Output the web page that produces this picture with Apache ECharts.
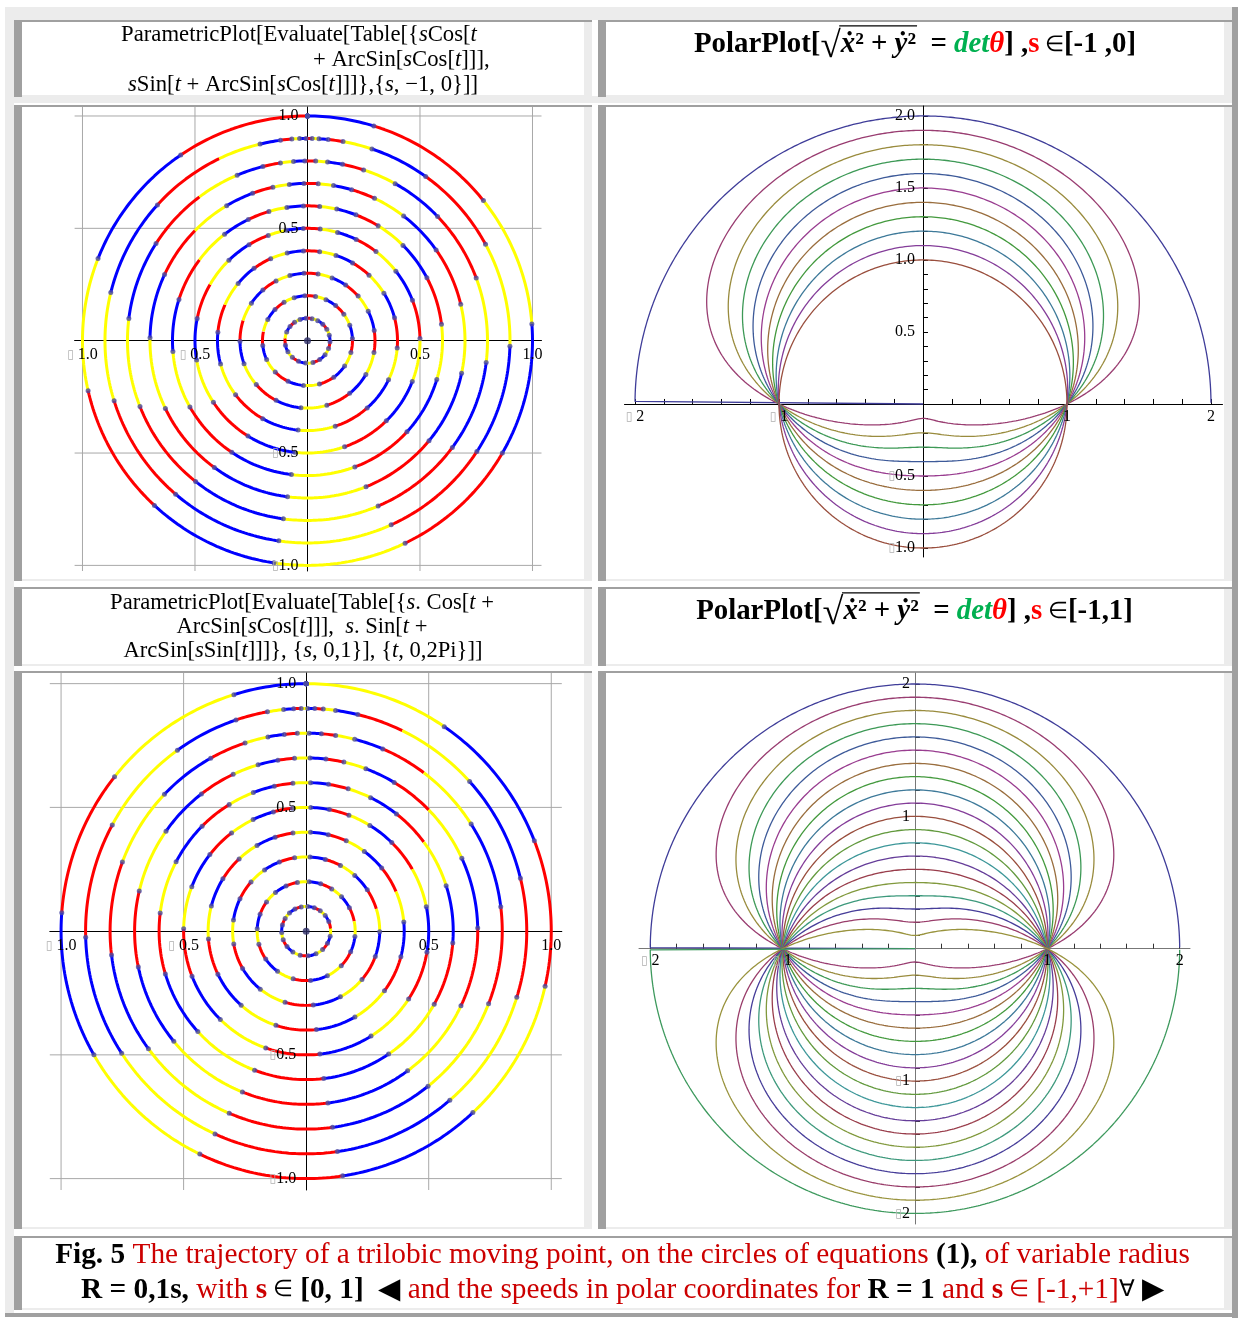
<!DOCTYPE html>
<html>
<head>
<meta charset="utf-8">
<title>Fig. 5</title>
<script src="https://cdn.jsdelivr.net/npm/echarts@6.0.0/dist/echarts.min.js"></script>
<style>
html,body{margin:0;padding:0;background:#ffffff;}
#wrap{position:relative;width:1238px;height:1320px;overflow:hidden;background:#fff;}
#frame{position:absolute;left:0;top:0;width:1238px;height:1320px;}
#frame div{position:absolute;}
#chart{position:absolute;left:0;top:0;width:1238px;height:1320px;}
</style>
</head>
<body>
<div id="wrap"><div id="frame"></div><div id="chart"></div></div>
<script>
// ================= DATA =================
// circle parameters s (radius |s|) of the two ParametricPlot panels
const ringS_TL = [-1, -0.9, -0.8, -0.7, -0.6, -0.5, -0.4, -0.3, -0.2, -0.1, 0];
const ringS_BL = [0, 0.1, 0.2, 0.3, 0.4, 0.5, 0.6, 0.7, 0.8, 0.9, 1];
const meshPoints = 20;                                   // Mesh -> 20
const meshShading = ['#ff0000', '#0000ff', '#ffff00'];   // segment colours in order
// parameters s of the PolarPlot speed curves
const polarS_TR = [-1, -0.9, -0.8, -0.7, -0.6, -0.5, -0.4, -0.3, -0.2, -0.1, 0];
const polarS_BR = [-1, -0.9, -0.8, -0.7, -0.6, -0.5, -0.4, -0.3, -0.2, -0.1, 0,
                   0.1, 0.2, 0.3, 0.4, 0.5, 0.6, 0.7, 0.8, 0.9, 1];
// grid lines / ticks / labels
const gridLinesLeft = [-1, -0.5, 0.5, 1];
const ticksLeft = [-1, -0.9, -0.8, -0.7, -0.6, -0.5, -0.4, -0.3, -0.2, -0.1,
                   0.1, 0.2, 0.3, 0.4, 0.5, 0.6, 0.7, 0.8, 0.9, 1];
const labelsLeft = [-1, -0.5, 0.5, 1];
const ticksPolarX = [-2, -1.8, -1.6, -1.4, -1.2, -1, -0.8, -0.6, -0.4, -0.2,
                     0.2, 0.4, 0.6, 0.8, 1, 1.2, 1.4, 1.6, 1.8, 2];
const ticksTRy = [-1, -0.9, -0.8, -0.7, -0.6, -0.5, -0.4, -0.3, -0.2, -0.1,
                  0.1, 0.2, 0.3, 0.4, 0.5, 0.6, 0.7, 0.8, 0.9, 1,
                  1.1, 1.2, 1.3, 1.4, 1.5, 1.6, 1.7, 1.8, 1.9, 2];
const ticksBRy = [-2, -1.9, -1.8, -1.7, -1.6, -1.5, -1.4, -1.3, -1.2, -1.1,
                  -1, -0.9, -0.8, -0.7, -0.6, -0.5, -0.4, -0.3, -0.2, -0.1,
                  0.1, 0.2, 0.3, 0.4, 0.5, 0.6, 0.7, 0.8, 0.9, 1,
                  1.1, 1.2, 1.3, 1.4, 1.5, 1.6, 1.7, 1.8, 1.9, 2];
const labelsTRx = [-2, -1, 1, 2];
const labelsTRy = [-1, -0.5, 0.5, 1, 1.5, 2];
const labelsBRx = [-2, -1, 1, 2];
const labelsBRy = [-2, -1, 1, 2];

// ================= FRAME (table borders) =================
const DARK = '#a0a0a0', LIGHT = '#ececec';
const frameRects = [
  [5, 7, 1227, 13, LIGHT], [5, 7, 9, 1306, LIGHT], [1232, 7, 6, 1311, DARK], [5, 1313, 1233, 4, DARK],
  [14, 96, 1218, 7, LIGHT]
];
const cells = [[14,20,592,97],[598,20,1232,97],[14,105,592,581],[598,105,1232,581],
               [14,587,592,666],[598,587,1232,666],[14,671,592,1229],[598,671,1232,1229],[14,1236,1232,1310]];
cells.forEach(c => {
  const [x0,y0,x1,y1] = c;
  frameRects.push([x0,y0,x1-x0,2,DARK],[x0,y0,8,y1-y0,DARK],[x1-8,y0+2,8,y1-y0-2,LIGHT],[x0+8,y1-2,x1-x0-16,2,LIGHT]);
});
const frame = document.getElementById('frame');
frameRects.forEach(r => {
  const d = document.createElement('div');
  d.style.left = r[0]+'px'; d.style.top = r[1]+'px'; d.style.width = r[2]+'px'; d.style.height = r[3]+'px'; d.style.background = r[4];
  frame.appendChild(d);
});

// ================= GEOMETRY FROM THE PLOTTED EXPRESSIONS =================
const TWO_PI = 2 * Math.PI;
const GAP = ['-', '-'];
function ringPoint(s, t) {
  const a = Math.max(-1, Math.min(1, s * Math.cos(t)));
  const phi = t + Math.asin(a);
  return [s * Math.cos(phi), s * Math.sin(phi)];
}
function buildRings(sList) {
  const segs = meshPoints + 1;
  const byColor = meshShading.map(() => []);
  const dots = [], center = [];
  sList.forEach(s => {
    if (s === 0) { center.push([0, 0]); return; }
    for (let k = 0; k < segs; k++) {
      const t0 = k * TWO_PI / segs, t1 = (k + 1) * TWO_PI / segs, arr = byColor[k % meshShading.length];
      for (let j = 0; j <= 36; j++) arr.push(ringPoint(s, t0 + (t1 - t0) * j / 36));
      arr.push(GAP);
    }
    for (let k = 1; k <= meshPoints; k++) dots.push(ringPoint(s, k * TWO_PI / segs));
  });
  return { byColor, dots, center };
}
function speedCurve(s) {
  const N = 1440, pts = [];
  for (let i = 0; i <= N; i++) {
    const t = i * TWO_PI / N, c = Math.cos(t), d = 1 - s * s * c * c;
    if (d <= 1e-12) continue;
    const r = 1 - s * Math.sin(t) / Math.sqrt(d);
    pts.push([r * c, r * Math.sin(t)]);
  }
  return pts;
}
function hsv(h, s, v) {
  const i = Math.floor(h * 6), f = h * 6 - i, p = v * (1 - s), q = v * (1 - f * s), u = v * (1 - (1 - f) * s);
  const m = [[v,u,p],[q,v,p],[p,v,u],[p,q,v],[u,p,v],[v,p,q]][i % 6];
  return 'rgb(' + m.map(x => Math.round(x * 255)).join(',') + ')';
}
function curveColor(n) { const h = 0.67 + 2 * n / ((1 + Math.sqrt(5)) / 2); return hsv(h - Math.floor(h), 0.6, 0.6); }

// ================= AXES =================
const SERIF = '"Liberation Serif", "Times New Roman", serif';
const boxRich = { b: { color: '#b0b0b0', fontFamily: '"DejaVu Sans"', fontSize: 12 } };
function fmt1(v) { return v.toFixed(1); }
function fmt0(v) { return String(Math.round(v)); }
function makeAxis(i, min, max, ticks, o, pos) {
  return { type: 'value', gridIndex: i, min: min, max: max, position: pos, z: 1,
    axisLine: { show: true, onZero: true, lineStyle: { color: o.axis, width: 1 } },
    axisTick: { show: true, inside: true, length: o.tick, customValues: ticks, lineStyle: { color: o.tickColor || o.axis, width: 1 } },
    axisLabel: { show: false },
    splitLine: { show: false }, minorTick: { show: false } };
}
const R = {
  TL: { x: [-1.035, 1.04], y: [-1.025, 1.04] },
  TR: { x: [-2.073, 2.08], y: [-1.0625, 2.069] },
  BL: { x: [-1.046, 1.043], y: [-1.046, 1.043] },
  BR: { x: [-2.085, 2.078], y: [-2.08, 2.083] }
};
const xAxes = [
  makeAxis(0, R.TL.x[0], R.TL.x[1], ticksLeft, { axis: '#000', tick: 5 }, 'bottom'),
  makeAxis(1, R.TR.x[0], R.TR.x[1], ticksPolarX, { axis: '#000', tick: 5 }, 'bottom'),
  makeAxis(2, R.BL.x[0], R.BL.x[1], ticksLeft, { axis: '#000', tick: 5 }, 'bottom'),
  makeAxis(3, R.BR.x[0], R.BR.x[1], ticksPolarX, { axis: '#777', tickColor: '#333', tick: 5 }, 'bottom')
];
const yAxes = [
  makeAxis(0, R.TL.y[0], R.TL.y[1], ticksLeft, { axis: '#000', tick: 6 }, 'left'),
  makeAxis(1, R.TR.y[0], R.TR.y[1], ticksTRy, { axis: '#000', tick: 5 }, 'left'),
  makeAxis(2, R.BL.y[0], R.BL.y[1], ticksLeft, { axis: '#000', tick: 6 }, 'left'),
  makeAxis(3, R.BR.y[0], R.BR.y[1], ticksBRy, { axis: '#777', tickColor: '#333', tick: 5 }, 'left')
];

// ================= SERIES =================
const series = [];
function gridSeries(ai, rg) {
  const data = [];
  gridLinesLeft.forEach(v => {
    data.push([v, rg.y[0]], [v, rg.y[1]], GAP);
    data.push([rg.x[0], v], [rg.x[1], v], GAP);
  });
  return { type: 'line', name: 'grid', xAxisIndex: ai, yAxisIndex: ai, data: data, symbol: 'none', showSymbol: false,
    connectNulls: false, lineStyle: { color: '#a8a8a8', width: 1 }, silent: true, z: 1 };
}
function ringPanel(ai, sList, rg) {
  series.push(gridSeries(ai, rg));
  const rs = buildRings(sList);
  rs.byColor.forEach((d, ci) => series.push({ type: 'line', name: 'ring' + ci, xAxisIndex: ai, yAxisIndex: ai, data: d,
    symbol: 'none', showSymbol: false, connectNulls: false, lineStyle: { color: meshShading[ci], width: 3 }, silent: true, z: 2 }));
  series.push({ type: 'scatter', name: 'mesh', xAxisIndex: ai, yAxisIndex: ai, data: rs.dots, symbolSize: 5,
    itemStyle: { color: '#4b4ba3' }, silent: true, z: 3 });
  series.push({ type: 'scatter', name: 'center', xAxisIndex: ai, yAxisIndex: ai, data: rs.center, symbolSize: 7,
    itemStyle: { color: '#2d2d66' }, silent: true, z: 3 });
}
function polarPanel(ai, sList) {
  sList.forEach((s, n) => series.push({ type: 'line', name: 's=' + s, xAxisIndex: ai, yAxisIndex: ai, data: speedCurve(s),
    symbol: 'none', showSymbol: false, lineStyle: { color: curveColor(n), width: 1.3 }, silent: true, z: 2 }));
}
// tick labels placed on the zero axis lines through the panel's own scales
function tickLabels(ai, xs, ys, fx, fy, mx, my) {
  const base = { fontFamily: SERIF, fontSize: 16, color: '#000', opacity: 1, rich: boxRich, textBorderWidth: 0, textShadowBlur: 0 };
  series.push({ type: 'scatter', name: 'xlabels', xAxisIndex: ai, yAxisIndex: ai, data: xs.map(v => [v, 0]),
    symbolSize: 0, silent: true, z: 5, clip: false,
    label: Object.assign({ show: true, position: 'bottom', distance: mx,
      formatter: p => { const v = p.value[0]; return v < 0 ? '{b|\u25AF} ' + fx(-v) : fx(v); } }, base) });
  series.push({ type: 'scatter', name: 'ylabels', xAxisIndex: ai, yAxisIndex: ai, data: ys.map(v => [0, v]),
    symbolSize: 0, silent: true, z: 5, clip: false,
    label: Object.assign({ show: true, position: 'left', distance: my,
      formatter: p => { const v = p.value[1]; return v < 0 ? '{b|\u25AF}' + fy(-v) : fy(v); } }, base) });
}
ringPanel(0, ringS_TL, R.TL);
polarPanel(1, polarS_TR);
ringPanel(2, ringS_BL, R.BL);
polarPanel(3, polarS_BR);
tickLabels(0, labelsLeft, labelsLeft, fmt1, fmt1, 6, 9);
tickLabels(1, labelsTRx, labelsTRy, fmt0, fmt1, 5, 8);
tickLabels(2, labelsLeft, labelsLeft, fmt1, fmt1, 7, 10);
tickLabels(3, labelsBRx, labelsBRy, fmt0, fmt0, 4, 5);

// ================= TEXT =================
const mctx = document.createElement('canvas').getContext('2d');
function measure(t, font) { mctx.font = font; return mctx.measureText(t).width; }
const FONTS = {
  n: sz => sz + 'px ' + SERIF,
  i: sz => 'italic ' + sz + 'px ' + SERIF,
  B: sz => 'bold ' + sz + 'px ' + SERIF,
  BI: sz => 'italic bold ' + sz + 'px ' + SERIF,
  R: sz => Math.round(sz * 1.3) + 'px ' + SERIF,
  S: sz => Math.round(sz * 0.78) + 'px ' + SERIF
};
function runsWidth(runs, sz) { return runs.reduce((a, r) => a + measure(r[0], FONTS[r[1]](sz)), 0); }
function fitSize(runs, base, target) { return base * target / runsWidth(runs, base); }
const graphics = [];
function placeRuns(runs, sz, y, opt) {
  const ws = runs.map(r => measure(r[0], FONTS[r[1]](sz)));
  const total = ws.reduce((a, b) => a + b, 0);
  let x = opt.left != null ? opt.left : opt.cx - total / 2;
  const pos = [];
  runs.forEach((r, i) => {
    const dy = r[3] || 0;
    graphics.push({ type: 'text', x: x, y: y + dy, z: 50, silent: true,
      style: { text: r[0], font: FONTS[r[1]](sz), fill: r[2] || '#000', textAlign: 'left', textVerticalAlign: 'middle', align: 'left', verticalAlign: 'middle' } });
    pos.push([x, x + ws[i]]);
    x += ws[i];
  });
  return pos;
}
// top-left title
const tl1 = [['ParametricPlot[Evaluate[Table[{', 'n'], ['s', 'i'], ['Cos[', 'n'], ['t', 'i']];
const tl2 = [['+ ArcSin[', 'n'], ['s', 'i'], ['Cos[', 'n'], ['t', 'i'], [']]],', 'n']];
const tl3 = [['s', 'i'], ['Sin[', 'n'], ['t', 'i'], [' + ArcSin[', 'n'], ['s', 'i'], ['Cos[', 'n'], ['t', 'i'], [']]]},{', 'n'], ['s', 'i'], [', \u22121, 0}]]', 'n']];
const szTL = fitSize(tl1, 20, 356);
placeRuns(tl1, szTL, 35, { cx: 299 });
placeRuns(tl2, szTL, 60, { left: 313 });
placeRuns(tl3, szTL, 85, { cx: 303 });
// bottom-left title
const bl1 = [['ParametricPlot[Evaluate[Table[{', 'n'], ['s', 'i'], ['. Cos[', 'n'], ['t', 'i'], [' +', 'n']];
const bl2 = [['ArcSin[', 'n'], ['s', 'i'], ['Cos[', 'n'], ['t', 'i'], [']]],  ', 'n'], ['s', 'i'], ['. Sin[', 'n'], ['t', 'i'], [' +', 'n']];
const bl3 = [['ArcSin[', 'n'], ['s', 'i'], ['Sin[', 'n'], ['t', 'i'], [']]]}, {', 'n'], ['s', 'i'], [', 0,1}], {', 'n'], ['t', 'i'], [', 0,2Pi}]]', 'n']];
const szBL = fitSize(bl1, 20, 384);
placeRuns(bl1, szBL, 603, { cx: 302 });
placeRuns(bl2, szBL, 627, { cx: 302 });
placeRuns(bl3, szBL, 651, { cx: 303 });
// polar titles
function polarTitle(rangeText, cx, y, target) {
  const runs = [['PolarPlot[', 'B'], ['\u221A', 'R', '#000', 2], ['\u1E8B', 'BI'], ['\u00B2', 'B'], [' + ', 'B'], ['\u1E8F', 'BI'], ['\u00B2', 'B'],
    ['  = ', 'B'], ['det', 'BI', '#00b050'], ['\u03B8', 'BI', '#ff0000'], ['] ,', 'B'], ['s', 'B', '#ff0000'], [' \u2208', 'S'], [rangeText, 'B']];
  const sz = fitSize(runs, 24, target);
  const pos = placeRuns(runs, sz, y, { cx: cx });
  graphics.push({ type: 'line', z: 50, silent: true, shape: { x1: pos[1][1] - 1.5, y1: y - sz * 0.66, x2: pos[6][1] + 1, y2: y - sz * 0.66 },
    style: { stroke: '#000', lineWidth: 1.2 } });
}
polarTitle('[-1 ,0]', 915, 45, 444);
polarTitle('[-1,1]', 914.5, 612, 437);
// caption
const RED = '#cc0000';
const cap1 = [['Fig. 5', 'B'], [' The trajectory of a trilobic moving point, on the circles of equations ', 'n', RED], ['(1),', 'B'], [' of variable radius', 'n', RED]];
const cap2 = [['R = 0,1s,', 'B'], [' with ', 'n', RED], ['s', 'B', RED], [' \u2208', 'S'], [' [0, 1]', 'B'], ['  \u25C0 ', 'n'],
  ['and the speeds in polar coordinates for ', 'n', RED], ['R = 1', 'B'], [' and ', 'n', RED], ['s', 'B', RED],
  [' \u2208', 'S', RED], [' [-1,+1]', 'n', RED], ['\u2200', 'S'], [' \u25B6', 'n']];
const szCap = fitSize(cap1, 26, 1135);
placeRuns(cap1, szCap, 1255, { cx: 622.5 });
placeRuns(cap2, szCap, 1290, { cx: 622.5 });

// ================= CHART =================
const chart = echarts.init(document.getElementById('chart'), null, { renderer: 'canvas', width: 1238, height: 1320 });
chart.setOption({
  animation: false,
  backgroundColor: 'transparent',
  grid: [
    { left: 74.6, top: 107, width: 466.9, height: 464, containLabel: false, outerBoundsMode: 'none' },
    { left: 624.5, top: 106, width: 598, height: 451, containLabel: false, outerBoundsMode: 'none' },
    { left: 49.8, top: 673, width: 512, height: 517, containLabel: false, outerBoundsMode: 'none' },
    { left: 639, top: 673, width: 551, height: 551, containLabel: false, outerBoundsMode: 'none' }
  ],
  xAxis: xAxes,
  yAxis: yAxes,
  series: series,
  graphic: { elements: graphics }
});
</script>
</body>
</html>
